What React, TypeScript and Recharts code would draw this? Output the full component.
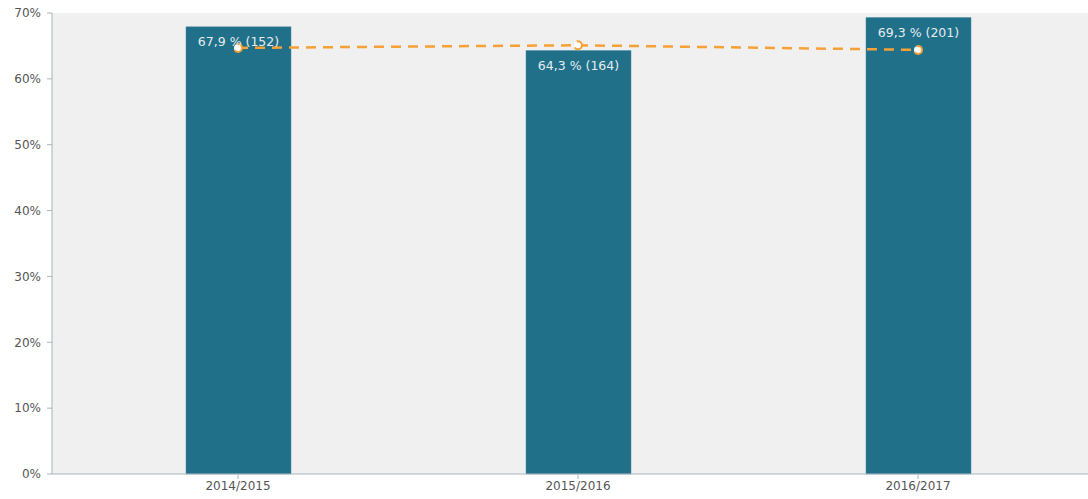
import React from "react";
import {
  ComposedChart,
  Bar,
  Line,
  XAxis,
  YAxis,
  CartesianGrid,
  LabelList,
} from "recharts";

const YEARS = ["2014/2015", "2015/2016", "2016/2017"];
const SHARE = [67.9, 64.3, 69.3];
const COUNTS = [152, 164, 201];
const AVERAGE = [64.7, 65.1, 64.4];
const Y_TICKS = [0, 10, 20, 30, 40, 50, 60, 70];

const data = YEARS.map((year, i) => ({
  year,
  share: SHARE[i],
  count: COUNTS[i],
  avg: AVERAGE[i],
}));

const fmt = (v: number) => v.toFixed(1).replace(".", ",");

function BarLabel(props: any) {
  const { x, y, width, index } = props;
  const d = data[index];
  return (
    <text
      x={x + width / 2}
      y={y + 19}
      textAnchor="middle"
      fill="#e4ecef"
      fontSize={12.5}
      fontFamily="'DejaVu Sans', sans-serif"
    >
      {`${fmt(d.share)} % (${d.count})`}
    </text>
  );
}

export default function App() {
  const tickStyle = { fontSize: 12, fill: "#555", fontFamily: "'DejaVu Sans', sans-serif" };
  return (
    <div style={{ position: "absolute", left: 0, top: 0, background: "#fff" }}>
      <ComposedChart
        width={1088}
        height={499}
        data={data}
        margin={{ top: 13, right: 0, bottom: 0, left: 0 }}
        barCategoryGap={0}
      >
        <CartesianGrid fill="#f0f0f0" horizontal={false} vertical={false} stroke="none" />
        <XAxis
          dataKey="year"
          height={25}
          padding={{ left: 16, right: 0 }}
          stroke="#aab4bd"
          tick={tickStyle}
          tickSize={5}
          tickMargin={2}
        />
        <YAxis
          width={52}
          domain={[0, 70]}
          ticks={Y_TICKS}
          tickFormatter={(v: number) => `${v}%`}
          stroke="#aab4bd"
          tick={tickStyle}
          tickSize={5}
          tickMargin={6}
        />
        <Bar dataKey="share" fill="#20708a" stroke="#4a8aa0" strokeWidth={0.5} barSize={105} isAnimationActive={false}>
          <LabelList dataKey="share" content={BarLabel} />
        </Bar>
        <Line
          dataKey="avg"
          stroke="#f7a035"
          strokeWidth={2.5}
          strokeDasharray="10 7"
          dot={{ r: 4, fill: "#fff", stroke: "#f7a035", strokeWidth: 2 }}
          isAnimationActive={false}
        />
      </ComposedChart>
    </div>
  );
}
